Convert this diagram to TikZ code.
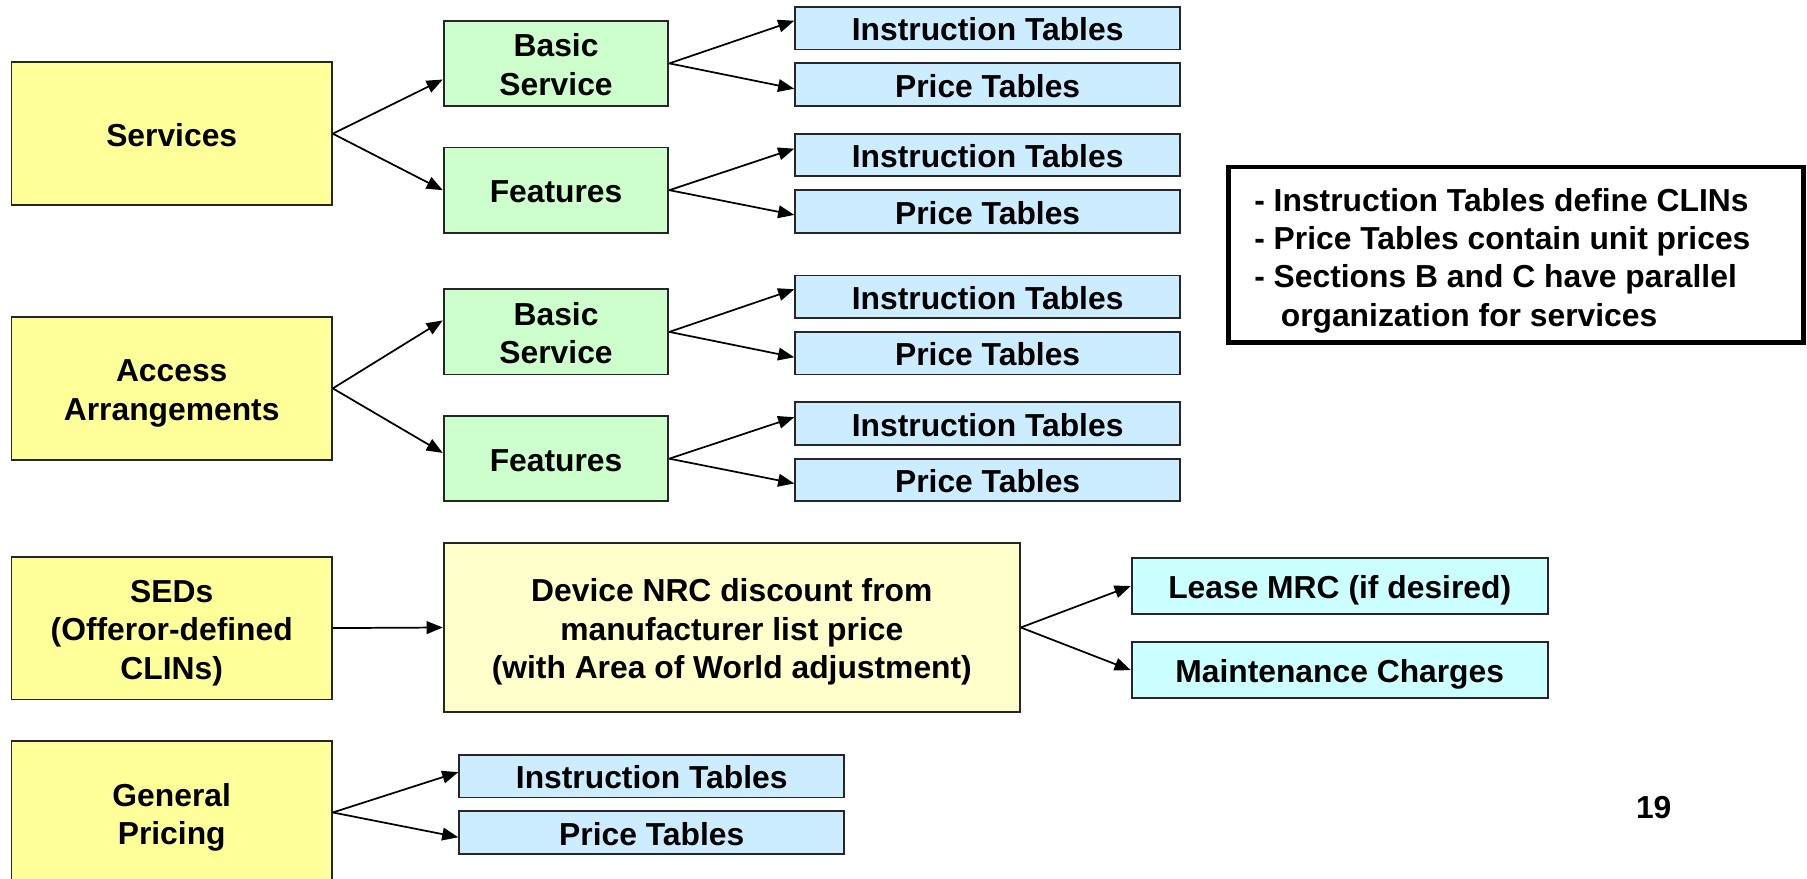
\documentclass[tikz,border=0pt]{standalone}
\usepackage{fontspec}
\setmainfont{Liberation Sans}
\usetikzlibrary{arrows.meta,calc}
\definecolor{ylw}{HTML}{FFFF99}
\definecolor{lylw}{HTML}{FFFFCC}
\definecolor{grn}{HTML}{CCFFCC}
\definecolor{lblu}{HTML}{CCECFF}
\definecolor{cyn}{HTML}{CCFFFF}
\newcommand{\dfont}{\fontsize{13.8}{16.6}\selectfont\bfseries}
\newcommand{\bx}[1]{\rule{0pt}{14pt}#1\rule[-3pt]{0pt}{3pt}}
\tikzset{
  box/.style={draw=black!85, line width=0.8pt, inner sep=0pt, align=center, font=\dfont},
  mainbox/.style={box, fill=ylw, minimum width=139pt, minimum height=62pt},
  subbox/.style={box, fill=grn, minimum width=97.5pt, minimum height=37pt},
  tblbox/.style={box, fill=lblu, minimum width=167pt, minimum height=18.5pt},
  devbox/.style={box, fill=lylw, minimum width=250pt, minimum height=73.5pt},
  chgbox/.style={box, fill=cyn, minimum width=180.5pt, minimum height=24.5pt},
  arr/.style={line width=0.75pt, -{Triangle[length=7pt,width=5.5pt]}},
}
\begin{document}
\begin{tikzpicture}[x=0.5pt,y=-0.5pt]
\useasboundingbox (0,0) rectangle (1568,762);
\clip (0,0) rectangle (1568,762);
\fill[white] (0,0) rectangle (1568,762);

% Services group
\node[mainbox] (serv) at (149,116) {\bx{Services}};
\node[subbox] (bs1) at (482.5,55) {\bx{Basic\\Service}};
\node[subbox] (fe1) at (482.5,165) {\bx{Features}};
\node[tblbox] (it1) at (857,24.5) {\bx{Instruction Tables}};
\node[tblbox] (pt1) at (857,73.5) {\bx{Price Tables}};
\node[tblbox] (it2) at (857,134.5) {\bx{Instruction Tables}};
\node[tblbox] (pt2) at (857,183.5) {\bx{Price Tables}};

% Access Arrangements group
\node[mainbox] (acc) at (149,337) {\bx{Access\\Arrangements}};
\node[subbox] (bs2) at (482.5,288) {\bx{Basic\\Service}};
\node[subbox] (fe2) at (482.5,398) {\bx{Features}};
\node[tblbox] (it3) at (857,257.5) {\bx{Instruction Tables}};
\node[tblbox] (pt3) at (857,306.5) {\bx{Price Tables}};
\node[tblbox] (it4) at (857,367.5) {\bx{Instruction Tables}};
\node[tblbox] (pt4) at (857,416.5) {\bx{Price Tables}};

% SEDs group
\node[mainbox] (sed) at (149,545) {\bx{SEDs\\(Offeror-defined\\CLINs)}};
\node[devbox] (dev) at (635,544.5) {\bx{Device NRC discount from\\manufacturer list price\\(with Area of World adjustment)}};
\node[chgbox] (lease) at (1162.5,508.5) {\bx{Lease MRC (if desired)}};
\node[chgbox] (maint) at (1162.5,581.5) {\bx{Maintenance Charges}};

% General Pricing group
\node[mainbox] (gen) at (149,705) {\bx{General\\Pricing}};
\node[tblbox] (it5) at (565.5,673.5) {\bx{Instruction Tables}};
\node[tblbox] (pt5) at (565.5,722.5) {\bx{Price Tables}};

% Note box
\node[draw=black, line width=2pt, inner sep=0pt, minimum width=249.5pt, minimum height=76pt] (note) at (1315.5,221) {};
\node[anchor=north west, inner sep=0pt, align=left, font=\dfont] (notetxt) at (1088,163)
  {- Instruction Tables define CLINs\\
   - Price Tables contain unit prices\\
   - Sections B and C have parallel\\
   \hspace*{11.5pt}organization for services};

% Page number
\node[font=\dfont] (pg) at (1435,701) {19};

% Connectors
\draw[arr] (serv.east) -- ($(bs1.west)+(0,-7pt)$);
\draw[arr] (serv.east) -- (fe1.west);
\draw[arr] (bs1.east) -- ($(it1.west)+(0,3.25pt)$);
\draw[arr] (bs1.east) -- ($(pt1.west)+(0,-1.75pt)$);
\draw[arr] (fe1.east) -- ($(it2.west)+(0,2.75pt)$);
\draw[arr] (fe1.east) -- ($(pt2.west)+(0,-1.5pt)$);

\draw[arr] (acc.east) -- ($(bs2.west)+(0,5pt)$);
\draw[arr] (acc.east) -- ($(fe2.west)+(0,2.5pt)$);
\draw[arr] (bs2.east) -- ($(it3.west)+(0,3.25pt)$);
\draw[arr] (bs2.east) -- ($(pt3.west)+(0,-1.75pt)$);
\draw[arr] (fe2.east) -- ($(it4.west)+(0,2.75pt)$);
\draw[arr] (fe2.east) -- ($(pt4.west)+(0,-1.5pt)$);

\draw[arr] (sed.east) -- (dev.west);
\draw[arr] (dev.east) -- (lease.west);
\draw[arr] (dev.east) -- (maint.west);

\draw[arr] (gen.east) -- ($(it5.west)+(0,1.75pt)$);
\draw[arr] (gen.east) -- ($(pt5.west)+(0,-2pt)$);
\end{tikzpicture}
\end{document}
